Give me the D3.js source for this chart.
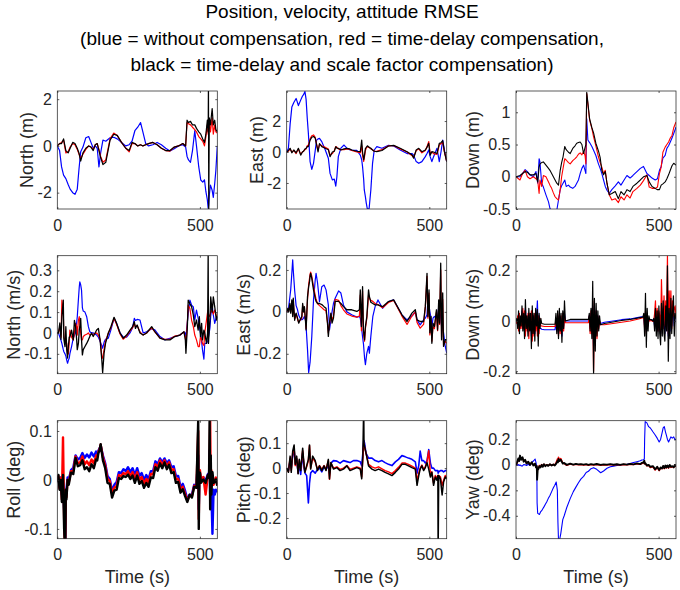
<!DOCTYPE html>
<html>
<head>
<meta charset="utf-8">
<script src="https://cdn.jsdelivr.net/npm/d3@7"></script>
<style>
  body { margin: 0; background: #fff; }
  text { font-family: "Liberation Sans", Arial, sans-serif; }
</style>
</head>
<body>
<svg width="680" height="590"></svg>
<script>
// ---- data (time in s) ----
const titleLines = [
  "Position, velocity, attitude RMSE",
  "(blue = without compensation, red = time-delay compensation,",
  "black = time-delay and scale factor compensation)"
];
const xTicks = [0, 500];
const tMax = 561;

// North position (m)
const tNorthPos = [0,8,15,22,30,38,45,54,62,70,76,82,90,100,110,118,126,133,140,146,152,160,170,185,198,210,225,240,252,262,272,282,292,300,310,320,335,350,365,380,395,410,425,440,450,455,460,467,474,482,488,496,503,510,516,521,526,529,530,531,533,537,543,547,552,556,561];
const northPosBlue = [0,-0.2,-0.9,-1.25,-1.4,-1.65,-1.85,-2.0,-2.07,-1.85,-1.0,-0.25,-0.05,0.35,0.4,0.15,-0.1,0.0,-0.1,-0.9,-0.3,0.25,0.2,0.35,0.37,0.3,0.15,0.0,0.05,0.2,0.65,0.8,1.0,0.6,0.1,0.0,0.05,0.15,0.05,-0.1,-0.22,-0.12,0.0,0.05,-0.05,-0.45,-0.6,-0.7,-0.2,0.65,0.0,-0.9,-1.46,-1.55,-1.45,-1.96,-2.3,-2.66,-2.6,-2.5,-2.1,-1.68,-1.9,-2.2,-1.6,-1.04,0.0];
const northPosRed = [0,0.1,0.15,0.25,-0.3,-0.25,-0.05,0.1,0.05,-0.15,-0.35,-0.55,-0.35,-0.15,0.0,-0.05,-0.15,0.05,0.1,-0.15,-0.45,-0.7,-0.6,0.3,0.55,0.45,0.15,-0.1,-0.25,0.1,0.1,0.0,0.05,0.0,0.05,0.1,0.15,0.05,-0.1,-0.2,-0.22,-0.05,0.0,0.1,0.0,1.0,0.95,0.9,0.8,0.7,0.6,0.4,0.3,0.2,0.0,0.4,0.9,0.5,0.6,0.7,1.0,0.6,1.2,0.5,0.9,0.6,0.55];
const northPosBlack = [0,0.1,0.1,0.3,-0.2,-0.3,-0.1,0.15,0.1,-0.1,-0.3,-0.65,-0.3,-0.1,0.0,-0.05,-0.2,0.05,0.1,-0.2,-0.5,-0.8,-0.7,0.25,0.5,0.45,0.15,-0.1,-0.2,0.15,0.1,0.0,0.05,0.0,0.05,0.1,0.15,0.05,-0.1,-0.2,-0.2,-0.05,0.0,0.1,0.0,1.1,1.0,1.05,0.9,0.9,0.75,0.6,0.5,0.3,0.15,0.5,1.1,0.6,3,-3,1.2,0.9,1.6,0.9,1.1,0.7,0.6];

// East position (m)
const tEastPos = [0,6,12,18,25,33,41,49,55,59,64,68,72,76,82,88,94,100,105,110,115,123,135,146,152,160,167,172,176,181,190,201,211,220,228,246,258,263,266,270,272,276,279,283,289,295,301,307,316,334,357,375,398,422,440,445,454,463,474,486,492,498,503,509,515,527,535,541,547,553,561];
const eastPosBlue = [0,0.24,1.8,2.9,3.2,3.46,3.0,3.35,3.6,3.7,3.9,3.4,2.2,1.2,-0.62,-1.12,-0.73,0.1,0.77,0.85,0.88,0.67,0.15,-0.4,-1.38,-1.8,-1.75,-2.2,-1.6,-0.3,0.25,0.45,0.25,0.15,0.13,0.1,-0.2,-0.5,-0.95,-1.8,-2.45,-2.9,-3.3,-3.7,-3.65,-2.45,-0.73,0.13,0.35,0.24,0.43,0.39,0.13,-0.1,-0.1,-0.2,-0.62,-0.73,-0.62,-0.3,-0.1,0.13,-0.3,-0.62,-0.3,0.24,-0.62,0.0,0.77,0.13,-0.62];
const eastPosRed = [0,0.05,0.2,0.0,0.1,-0.1,0.2,-0.15,0.0,0.05,0.15,0.2,0.4,0.45,0.85,1.05,1.1,0.95,0.5,0.1,0.5,0.4,0.3,0.2,-0.2,-0.1,0.1,0.35,0.3,0.2,0.15,0.15,0.2,0.18,0.1,0.0,-0.05,0.4,-0.2,-0.6,-0.4,0.1,0.25,0.35,0.3,0.2,0.15,0.05,0.05,0.15,0.4,0.42,0.2,0.0,-0.25,-0.35,0.1,0.2,-0.05,0.1,0.35,0.67,-0.1,0.0,-0.1,-0.15,0.45,0.55,0.6,0.0,-0.6];
const eastPosBlack = [0,0.1,0.24,-0.05,0.13,-0.05,0.24,-0.2,0.0,0.05,0.2,0.24,0.35,0.35,0.77,0.95,1.0,0.9,0.45,0.0,0.55,0.35,0.24,0.15,-0.3,0.0,0.05,0.34,0.25,0.24,0.13,0.2,0.24,0.2,0.13,0.05,0.02,0.77,0.0,-0.5,-0.3,0.24,0.3,0.4,0.3,0.24,0.13,0.05,0.02,0.1,0.39,0.43,0.24,0.02,-0.2,-0.4,0.13,0.24,0.02,0.13,0.3,0.56,-0.2,0.02,0.0,-0.1,0.56,0.6,0.73,0.02,-0.62];

// Down position (m)
const tDownPos = [0,14,23,32,40,49,61,70,76,81,84,90,96,105,114,119,125,131,137,143,149,155,160,165,171,176,184,190,199,207,213,219,225,231,237,242,245,248,252,258,266,272,280,289,295,301,307,313,319,327,336,348,359,368,379,389,400,410,424,436,447,459,467,477,488,496,503,509,515,523,529,535,541,547,553,561];
const downPosBlue = [0,0,0.05,0.11,0.08,0.03,0.0,0.08,-0.1,0.28,0.23,-0.1,-0.16,-0.28,-0.39,-0.49,-0.53,-0.55,-0.55,-0.52,-0.36,-0.2,-0.14,-0.1,-0.05,-0.15,-0.13,-0.16,-0.18,-0.15,-0.1,-0.05,0.05,0.13,0.18,0.1,0.05,0.9,0.57,0.53,0.47,0.41,0.33,0.2,0.13,0.05,-0.05,-0.15,-0.21,-0.26,-0.2,-0.14,-0.08,-0.13,-0.05,0.02,-0.02,0.02,0.08,0.13,0.16,0.05,0.02,-0.02,-0.05,-0.03,0.1,0.16,0.29,0.33,0.44,0.48,0.54,0.6,0.67,0.77];
const downPosRed = [0,-0.05,0.05,0.1,0.0,-0.03,0.0,-0.03,-0.05,-0.26,-0.05,-0.15,0.02,0.0,-0.08,-0.13,-0.18,-0.25,-0.31,-0.34,-0.36,-0.2,0.0,0.13,0.28,0.26,0.22,0.2,0.25,0.28,0.31,0.35,0.37,0.34,0.39,0.33,0.2,1.29,1.13,0.88,0.75,0.62,0.48,0.31,0.22,0.15,0.05,0.1,-0.1,-0.28,-0.36,-0.34,-0.4,-0.31,-0.36,-0.28,-0.33,-0.23,-0.18,-0.13,-0.06,0.03,-0.16,-0.18,-0.18,-0.16,0.05,0.15,0.38,0.46,0.5,0.54,0.6,0.64,0.76,0.85];
const downPosBlack = [0,0.02,0.05,0.08,0.07,0.03,0.03,0.05,-0.08,0.15,0.2,0.22,0.23,0.18,0.13,0.1,0.05,0.0,-0.05,-0.1,-0.13,0.1,0.22,0.31,0.47,0.42,0.38,0.36,0.44,0.48,0.52,0.53,0.54,0.5,0.36,0.45,0.5,1.31,1.15,0.9,0.76,0.68,0.52,0.4,0.3,0.1,0.03,0.08,-0.1,-0.28,-0.26,-0.23,-0.34,-0.23,-0.28,-0.2,-0.23,-0.15,-0.1,-0.05,0.0,0.02,-0.08,-0.15,-0.18,-0.2,-0.2,-0.13,-0.11,-0.08,-0.03,0.03,0.1,0.17,0.21,0.18];

// North velocity (m/s)
const tNorthVel = [0,4,9,13,16,21,23,27,30,33,36,39,42,44,50,56,60,64,68,70,74,77,79,82,85,88,91,97,103,109,114,120,126,138,144,150,153,156,159,164,169,179,188,199,208,220,231,243,255,264,270,274,280,290,301,313,331,342,360,377,395,412,430,444,449,451,456,459,465,471,477,482,488,494,498,502,506,509,514,517,523,527,529,530,535,538,543,547,552,558,561];
const northVelBlue = [0,0,-0.02,-0.035,-0.05,-0.08,-0.09,-0.1,-0.11,-0.13,-0.145,-0.13,-0.12,-0.1,-0.065,-0.025,-0.01,0.0,0.05,0.078,0.16,0.22,0.245,0.23,0.205,0.12,0.105,0.1,0.078,0.03,0.006,0.0,0.0,-0.01,-0.02,-0.04,-0.05,-0.06,-0.073,-0.045,-0.03,-0.025,0.015,0.07,0.046,0.0,-0.02,-0.02,0.0,0.025,0.07,0.06,0.065,0.062,0.0,0.006,0.02,0.015,-0.017,-0.033,-0.025,-0.017,-0.01,0.004,0.0,-0.02,0.05,0.094,0.157,0.133,0.125,0.062,0.11,0.07,0.03,0.0,-0.04,-0.08,-0.125,-0.05,-0.05,-0.04,-0.033,-0.02,0.022,0.08,0.133,0.086,0.046,0.078,0.07];
const northVelRed = [0,0.0,0.03,-0.02,0.157,0.1,-0.02,-0.033,-0.05,-0.048,-0.1,-0.1,-0.04,0.014,-0.02,-0.033,0.0,0.046,0.03,-0.01,0.06,0.078,0.05,0.0,-0.033,-0.033,-0.017,-0.01,-0.006,0.0,-0.01,-0.006,-0.006,0.0,-0.01,-0.03,-0.06,-0.12,-0.12,-0.08,-0.04,0.0,0.025,0.07,0.04,-0.005,-0.03,-0.015,0.01,0.025,0.045,0.03,0.035,0.005,-0.01,0.0,0.025,0.005,-0.025,-0.03,-0.03,-0.015,-0.01,0.005,-0.02,-0.06,0.05,0.133,0.117,0.06,0.03,-0.01,-0.033,-0.065,-0.065,-0.017,-0.033,-0.05,-0.06,0.0,0.06,0.1,0.11,0.09,0.078,0.1,0.11,0.09,0.11,0.08,0.07];
const northVelBlack = [0,0.0,0.048,-0.03,0.078,0.157,-0.03,-0.065,0.03,-0.08,-0.12,-0.06,-0.02,-0.02,0.014,-0.033,0.06,0.03,-0.033,-0.08,-0.05,0.014,0.03,0.07,-0.033,-0.105,-0.08,-0.065,-0.05,-0.033,-0.017,0.0,-0.017,0.014,0.022,-0.033,-0.08,-0.128,-0.19,-0.097,-0.05,0.0,0.03,0.075,0.046,0.0,-0.025,-0.01,0.014,0.03,0.054,0.022,0.038,0.0,-0.01,0.0,0.03,0.006,-0.025,-0.033,-0.033,-0.017,-0.01,0.006,-0.033,-0.097,0.03,0.157,0.14,0.125,0.085,0.03,0.062,0.014,0.078,-0.017,0.046,-0.033,0.014,0.0,-0.05,0.0,0.4,-0.05,0.062,0.173,0.1,0.173,0.125,0.062,0.08];

// East velocity (m/s)
const tEastVel = [0,4,7,11,14,18,21,23,26,28,30,33,38,42,47,53,56,59,62,66,68,73,77,80,82,84,88,94,100,103,108,115,123,131,138,143,146,150,155,159,164,170,182,190,199,211,228,246,255,258,262,266,269,273,276,281,287,290,295,302,310,320,336,357,375,404,422,439,451,457,468,480,486,492,495,499,502,506,509,513,518,525,529,533,536,540,543,547,550,556,561];
const eastVelBlue = [0,0.01,0.025,0.07,0.105,0.184,0.248,0.2,0.14,0.1,0.073,0.03,0.01,-0.015,-0.03,-0.038,-0.035,-0.03,-0.022,-0.04,-0.07,-0.18,-0.29,-0.26,-0.24,-0.2,-0.117,0.057,0.152,0.184,0.14,0.049,0.12,0.128,0.105,0.06,0.033,-0.086,-0.04,0.0,0.04,0.065,0.1,0.09,0.033,0.0,-0.014,-0.025,-0.022,-0.03,-0.07,-0.12,-0.15,-0.22,-0.252,-0.197,-0.165,-0.197,-0.117,-0.022,0.025,0.057,0.017,0.049,0.057,-0.014,-0.038,-0.02,0.0,-0.038,-0.062,-0.038,-0.03,-0.014,0.057,0.03,0.0,-0.03,-0.07,-0.03,-0.022,-0.03,-0.03,0.025,0.0,-0.022,-0.07,-0.07,-0.1,-0.165,-0.197];
const eastVelRed = [0,0.01,0.005,0.03,0.0,0.05,-0.01,0.05,-0.01,-0.03,-0.03,-0.01,-0.035,-0.05,-0.04,-0.03,0.03,0.0,0.02,-0.04,-0.08,0.06,0.13,0.16,0.18,0.19,0.17,0.12,0.08,0.06,0.04,0.03,0.02,0.01,0.005,-0.05,-0.1,-0.06,-0.01,-0.04,-0.02,0.06,0.055,0.03,0.01,-0.01,-0.02,-0.025,-0.02,0.08,-0.09,0.1,-0.1,-0.14,-0.08,-0.03,0.08,0.065,0.055,0.05,0.04,0.035,0.02,0.045,0.055,-0.02,-0.06,-0.02,0.0,-0.05,-0.078,-0.06,0.02,0.17,-0.03,0.09,-0.11,-0.04,-0.14,-0.07,-0.08,0.0,-0.09,0.03,-0.06,0.2,-0.12,0.06,-0.16,-0.14,-0.15];
const eastVelBlack = [0,0.016,0.0,0.04,-0.006,0.057,-0.022,0.065,0.0,-0.04,-0.02,-0.006,-0.03,-0.054,-0.038,-0.022,0.04,0.0,0.025,-0.046,-0.086,0.073,0.12,0.144,0.17,0.184,0.16,0.105,0.065,0.05,0.04,0.04,0.035,0.025,0.017,-0.054,-0.117,-0.054,-0.006,-0.054,-0.03,0.05,0.05,0.04,0.025,0.01,0.01,0.002,0.01,0.105,-0.07,0.12,-0.086,-0.133,-0.07,-0.022,0.105,0.073,0.046,0.04,0.033,0.033,0.025,0.049,0.057,-0.014,-0.046,-0.006,0.01,-0.038,-0.046,-0.046,0.025,0.184,-0.022,0.105,-0.1,-0.022,-0.15,-0.054,-0.07,0.01,-0.086,0.057,-0.054,0.232,-0.133,0.09,-0.165,-0.133,-0.133];

// Down velocity (m/s)
const tDownVel = [0,3,6,9,12,15,18,21,24,27,30,33,36,39,42,45,48,51,54,57,60,63,66,69,72,75,78,81,84,87,90,
  100,115,130,
  137,140,143,146,149,152,155,158,161,164,167,170,173,
  190,210,230,245,
  254,257,260,263,266,269,272,275,278,281,284,287,290,293,296,
  310,340,370,400,430,445,
  448,451,454,457,460,463,466,469,
  475,480,
  483,486,489,492,495,498,501,504,507,510,513,516,519,522,525,528,531,534,537,540,543,546,549,552,555,558,561];
const downVelBlue = [0,0.005,-0.02,0.03,-0.03,0.01,-0.015,0.04,-0.03,0.02,-0.04,0.05,-0.02,0.01,-0.04,0.03,-0.03,0.02,-0.06,0.04,-0.03,0.02,-0.05,0.03,0.01,0.08,-0.05,0.02,-0.03,-0.03,-0.033,
  -0.035,-0.035,-0.035,
  -0.035,0.0,-0.04,0.02,-0.05,0.02,-0.03,0.01,-0.06,0.02,-0.02,0.03,0.0,
  0.0,0.0,0.0,0.0,
  0.0,0.02,-0.03,0.03,-0.04,0.06,-0.1,0.05,-0.07,0.04,-0.04,0.02,-0.02,0.0,-0.01,
  -0.005,0.0,0.005,0.008,0.014,0.017,
  0.02,-0.02,0.03,-0.04,0.02,-0.015,0.01,0.005,
  0.005,0.003,
  0.005,-0.02,0.03,-0.03,0.02,-0.04,0.03,-0.02,-0.05,0.04,-0.03,0.05,-0.02,-0.05,0.04,-0.02,0.06,-0.06,0.03,-0.04,0.05,-0.02,0.03,0.04,-0.02,0.02,0.01];
const downVelRed = [0,-0.01,0.02,-0.04,0.03,-0.03,0.01,-0.03,0.05,-0.02,0.04,-0.06,0.02,-0.04,0.03,-0.07,0.03,-0.02,0.04,-0.08,0.02,-0.06,0.03,-0.04,0.02,-0.06,0.02,-0.05,0.01,-0.02,-0.02,
  -0.022,-0.022,-0.022,
  -0.022,0.01,-0.03,0.02,-0.06,0.03,-0.05,0.02,-0.04,0.03,-0.04,0.02,-0.007,
  -0.007,-0.007,-0.007,-0.007,
  -0.007,0.02,-0.05,0.04,-0.05,0.08,-0.2,0.05,-0.09,0.04,-0.07,0.02,-0.03,0.0,-0.015,
  -0.015,-0.01,-0.005,0.0,0.008,0.013,
  0.02,-0.03,0.04,-0.05,0.03,-0.02,0.01,0.0,
  0.002,-0.002,
  0.0,0.03,0.08,-0.02,0.05,-0.04,0.04,0.02,-0.05,0.165,0.03,-0.03,0.1,-0.02,0.08,0.0,0.26,-0.05,0.12,0.02,0.12,-0.03,0.08,0.02,0.05,0.06,0.02];
const downVelBlack = [0,0.01,-0.03,0.04,-0.05,0.02,-0.02,0.06,-0.04,0.03,-0.07,0.085,-0.03,0.02,-0.06,0.05,-0.04,0.03,-0.11,0.06,-0.05,0.03,-0.08,0.05,-0.02,0.045,-0.1,0.03,-0.03,0.01,-0.01,
  -0.013,-0.013,-0.013,
  -0.013,0.03,-0.05,0.04,-0.07,0.05,-0.04,0.03,-0.085,0.04,-0.03,0.08,0.0,
  0.006,0.006,0.006,0.006,
  0.006,0.03,-0.04,0.05,-0.07,0.158,-0.21,0.09,-0.12,0.07,-0.06,0.04,-0.04,0.02,-0.015,
  -0.01,-0.004,0.002,0.006,0.012,0.015,
  0.03,-0.06,0.11,-0.105,0.05,-0.04,0.02,0.005,
  0.005,0.0,
  0.01,-0.04,0.05,-0.06,0.04,-0.07,0.06,-0.05,-0.095,0.07,-0.06,0.08,-0.05,-0.08,0.06,-0.04,0.22,-0.16,0.05,-0.07,0.09,-0.05,0.04,0.1,-0.06,0.03,0.01];

// Roll (deg)
const tRoll = [0,4,8,12,16,20,24,26,28,30,32,36,40,48,56,64,72,80,88,96,104,112,120,128,136,140,144,148,152,160,168,176,184,192,200,208,216,224,232,240,248,256,264,272,280,288,296,304,312,320,328,336,344,352,360,368,376,384,392,400,408,416,424,432,440,448,456,464,472,480,488,494,496,498,500,504,512,520,528,532,534,536,538,540,544,548,552,556,561];
const rollBlue = [0.0,0.005,-0.015,0.005,-0.03,0.0,-0.06,-0.11,-0.12,-0.03,-0.02,0.005,0.0,0.02,0.025,0.05,0.042,0.045,0.055,0.045,0.052,0.046,0.056,0.048,0.058,0.052,0.06,0.064,0.07,0.05,0.034,0.008,0.002,-0.022,-0.01,-0.004,0.016,0.014,0.022,0.018,0.026,0.016,0.024,0.01,0.024,0.008,0.014,0.0,0.01,0.002,0.018,0.018,0.038,0.032,0.044,0.036,0.044,0.034,0.04,0.026,0.028,0.008,0.008,-0.014,-0.008,-0.022,-0.04,-0.03,-0.03,-0.01,-0.012,0.05,-0.06,0.01,0.015,0.0,0.005,-0.002,0.012,0.008,0.06,-0.03,0.02,-0.02,-0.11,-0.02,-0.03,-0.02,-0.025];
const rollRed = [-0.002,0.008,-0.018,0.004,-0.04,0.087,-0.08,-0.13,-0.125,-0.03,-0.035,0.0,-0.005,0.018,0.018,0.048,0.034,0.036,0.048,0.032,0.038,0.03,0.042,0.034,0.05,0.046,0.058,0.062,0.072,0.046,0.03,0.002,-0.002,-0.028,-0.016,-0.012,0.01,0.008,0.014,0.012,0.018,0.008,0.016,0.002,0.016,0.0,0.006,-0.008,0.002,-0.006,0.012,0.012,0.032,0.026,0.04,0.03,0.04,0.028,0.036,0.02,0.022,0.002,0.002,-0.02,-0.014,-0.028,-0.042,-0.032,-0.034,-0.012,-0.014,0.1,-0.08,0.01,0.02,0.0,0.006,-0.03,0.01,0.008,0.04,0.12,-0.02,0.02,0.0,-0.01,0.0,0.005,-0.01];
const rollBlack = [-0.005,0.01,-0.02,0.0,-0.045,0.01,-0.1,-0.125,-0.13,-0.02,-0.04,0.0,-0.01,0.015,0.012,0.045,0.028,0.03,0.04,0.022,0.026,0.018,0.032,0.024,0.042,0.04,0.055,0.06,0.073,0.04,0.024,-0.006,-0.008,-0.036,-0.022,-0.02,0.004,0.002,0.008,0.006,0.011,0.002,0.009,-0.006,0.009,-0.008,-0.002,-0.016,-0.006,-0.014,0.005,0.004,0.026,0.019,0.034,0.024,0.036,0.022,0.031,0.014,0.016,-0.006,-0.004,-0.026,-0.019,-0.033,-0.045,-0.03,-0.036,-0.014,-0.016,0.12,-0.1,0.005,0.015,-0.006,0.001,-0.006,0.01,0.004,0.12,-0.06,0.05,-0.03,0.016,-0.006,-0.004,0.001,-0.012];

// Pitch (deg)
const tPitch = [0,6,12,16,21,26,30,35,40,44,49,56,61,64,70,76,80,84,91,100,108,115,123,131,138,146,150,155,164,176,187,199,211,222,234,246,258,263,267,270,271,273,278,287,299,310,322,334,345,357,369,381,392,404,416,427,439,451,457,463,468,474,480,486,492,498,504,509,515,521,527,530,531,533,539,545,550,556,561];
const pitchBlue = [0,-0.01,0.03,0.0,0.05,0.07,0.02,0.035,-0.02,0.02,-0.025,0.06,0.0,-0.02,-0.03,-0.14,-0.06,-0.02,-0.01,-0.02,-0.005,0.0,-0.015,0.005,-0.005,0.01,-0.02,0.02,0.03,0.028,0.02,0.03,0.026,0.022,0.03,0.03,0.025,0.01,0.06,0.11,0.11,0.1,0.06,0.04,0.04,0.03,0.025,0.03,0.022,0.015,0.01,0.025,0.035,0.05,0.045,0.04,0.035,0.025,-0.02,0.01,0.068,0.03,0.03,0.02,0.03,0.074,0.02,0.0,0.0,-0.01,-0.01,-0.01,-0.02,-0.015,-0.01,-0.01,-0.015,-0.01,-0.01];
const pitchRed = [0,-0.015,0.04,-0.01,0.06,0.08,0.01,0.04,-0.02,0.03,-0.005,0.07,0.005,-0.015,0.005,0.03,0.09,0.0,0.04,0.025,-0.005,0.01,-0.005,0.01,-0.005,0.03,-0.045,0.02,0.0,0.005,-0.005,0.0,0.01,-0.005,0.0,0.005,0.0,-0.035,0.04,0.1,0.1,0.085,0.06,0.015,0.005,0.0,0.005,-0.003,-0.01,-0.015,-0.022,-0.01,0.003,0.02,0.02,0.015,0.008,0.0,-0.05,-0.02,0.0,0.012,-0.005,0.005,0.025,0.07,-0.03,-0.015,-0.06,-0.03,-0.04,-0.03,-0.03,-0.03,-0.035,-0.07,-0.05,-0.03,-0.04];
const pitchBlack = [0,-0.017,0.048,-0.017,0.068,0.093,0.015,0.048,-0.023,0.035,-0.01,0.08,0.01,-0.017,0.01,0.035,0.093,-0.004,0.048,0.03,-0.01,0.009,-0.01,0.009,-0.01,0.035,-0.043,0.022,-0.004,0.002,-0.01,-0.004,0.009,-0.01,-0.004,0.002,-0.004,-0.043,0.048,0.25,0.1,0.087,0.061,0.009,-0.004,-0.01,-0.004,-0.01,-0.017,-0.023,-0.03,-0.017,-0.004,0.015,0.015,0.009,0.002,-0.004,-0.069,-0.03,-0.004,0.009,-0.01,0.002,0.022,-0.004,-0.036,-0.017,-0.069,-0.036,-0.049,-0.03,-0.35,-0.03,-0.043,-0.108,-0.056,-0.036,-0.043];

// Yaw (deg)
const tYaw = [0,4,8,11,14,18,23,27,32,37,43,49,55,61,67,70,73,74,76,79,82,86,90,94,98,103,108,113,119,125,131,136,141,145,147,149,152,157,164,169,178,190,201,210,219,228,237,246,254,263,272,283,297,307,319,331,342,354,365,377,389,400,412,424,436,441,447,450,451,453,459,465,471,480,488,495,502,507,512,516,520,524,527,531,535,539,543,548,553,557,561];
const yawBlue = [0,0.0,0.002,-0.005,0.0,-0.008,-0.008,0.003,0.0,-0.005,0.005,-0.005,0.02,0.03,0.046,0.02,-0.02,-0.3,-0.38,-0.385,-0.39,-0.37,-0.36,-0.345,-0.33,-0.31,-0.29,-0.265,-0.24,-0.21,-0.18,-0.16,-0.135,-0.2,-0.45,-0.59,-0.6,-0.54,-0.43,-0.4,-0.335,-0.265,-0.21,-0.175,-0.14,-0.11,-0.09,-0.06,-0.05,-0.03,-0.022,-0.035,-0.062,-0.048,-0.027,-0.015,-0.01,-0.005,0.0,0.003,0.005,0.01,0.018,0.025,0.032,0.038,0.04,0.046,0.2,0.34,0.33,0.3,0.29,0.26,0.235,0.21,0.18,0.2,0.25,0.29,0.3,0.26,0.235,0.2,0.18,0.2,0.22,0.21,0.22,0.2,0.2];
const yawRed = [0,0.015,0.04,0.035,0.06,0.045,0.05,0.03,0.035,0.015,0.02,0.005,0.015,0.0,0.005,-0.015,-0.02,-0.06,-0.03,-0.025,-0.005,-0.015,0.002,-0.01,0.004,-0.006,0.0,-0.005,0.004,-0.003,0.003,0.0,0.02,0.045,0.03,0.06,0.04,0.05,0.015,0.01,-0.003,0.006,0.0,0.004,0.0,0.002,-0.002,0.002,-0.003,0.002,-0.002,0.003,-0.003,0.0,-0.002,0.002,-0.002,0.002,-0.002,0.003,0.0,0.005,0.002,0.008,0.004,0.01,0.015,0.025,0.008,0.01,-0.008,-0.003,-0.02,-0.015,-0.04,-0.02,-0.045,-0.025,-0.03,-0.012,-0.03,-0.01,-0.025,-0.01,-0.025,-0.005,-0.02,-0.015,-0.02,-0.005,-0.015];
const yawBlack = [0,0.02,0.05,0.03,0.073,0.04,0.06,0.025,0.04,0.01,0.025,0.0,0.02,-0.005,0.01,-0.02,-0.01,-0.116,-0.04,-0.03,-0.01,-0.02,0.0,-0.015,0.005,-0.01,0.0,-0.008,0.005,-0.005,0.003,-0.005,0.01,0.03,0.02,0.046,0.03,0.04,0.01,0.015,0.0,0.01,0.002,0.008,0.004,0.006,0.002,0.006,0.0,0.006,0.002,0.007,0.0,0.004,0.002,0.006,0.001,0.005,0.0,0.006,0.002,0.008,0.004,0.012,0.006,0.015,0.02,0.032,0.01,0.015,-0.005,0.0,-0.015,-0.01,-0.035,-0.015,-0.04,-0.02,-0.028,-0.008,-0.025,-0.005,-0.02,-0.005,-0.02,0.0,-0.015,-0.01,-0.02,0.0,-0.012];

// y-axis limits and ticks per panel
const yLimits = [[-2.7,2.35],[-3.68,3.94],[-0.5,1.33],[-0.195,0.37],[-0.295,0.268],[-0.21,0.26],[-0.12,0.121],[-0.283,0.19],[-0.58,0.347]];
const yTickSets = [[-2,0,2],[-2,0,2],[-0.5,0,0.5,1],[-0.1,0,0.1,0.2,0.3],[-0.2,0,0.2],[-0.2,0,0.2],[-0.1,0,0.1],[-0.2,-0.1,0,0.1],[-0.4,-0.2,0,0.2]];
const yLabels = ["North (m)","East (m)","Down (m)","North (m/s)","East (m/s)","Down (m/s)","Roll (deg)","Pitch (deg)","Yaw (deg)"];

const panels = [
  {t:tNorthPos, blue:northPosBlue, red:northPosRed, black:northPosBlack},
  {t:tEastPos,  blue:eastPosBlue,  red:eastPosRed,  black:eastPosBlack},
  {t:tDownPos,  blue:downPosBlue,  red:downPosRed,  black:downPosBlack},
  {t:tNorthVel, blue:northVelBlue, red:northVelRed, black:northVelBlack},
  {t:tEastVel,  blue:eastVelBlue,  red:eastVelRed,  black:eastVelBlack},
  {t:tDownVel,  blue:downVelBlue,  red:downVelRed,  black:downVelBlack},
  {t:tRoll,     blue:rollBlue,     red:rollRed,     black:rollBlack},
  {t:tPitch,    blue:pitchBlue,    red:pitchRed,    black:pitchBlack},
  {t:tYaw,      blue:yawBlue,      red:yawRed,      black:yawBlack}
];

// ---- layout / style ----
const colX = [57.3, 286.7, 516];
const rowY = [91, 255.7, 420.7];
const pw = 160, ph = 118;
const labelGap = [24, 24, 37, 37, 37, 37, 37, 37, 37];
const seriesColors = [["blue","#0000ff"],["red","#ff0000"],["black","#000000"]];
// stroke widths [blue, red, black]; the attitude traces are noisy bands in the original
const strokeW = [[1.2,1.2,1.2],[1.2,1.2,1.2],[1.1,1.1,1.1],[1.2,1.2,1.3],[1.2,1.2,1.3],[1.2,1.2,1.2],[2.4,2.4,2.4],[1.6,1.5,1.5],[1.1,1.5,1.9]];
const axisColor = "#262626";

var svg = d3.select("svg");

// title
svg.append("g")
  .selectAll("text")
  .data(titleLines)
  .enter()
  .append("text")
  .attr("x", 342)
  .attr("y", (d, i) => [18, 45, 71][i])
  .attr("text-anchor", "middle")
  .attr("font-size", 19)
  .attr("fill", "#000")
  .text(d => d);

panels.forEach(function(p, i) {
  var row = Math.floor(i / 3), col = i % 3;
  var g = svg.append("g")
    .attr("transform", "translate(" + colX[col] + "," + rowY[row] + ")");

  var x = d3.scaleLinear().domain([0, tMax]).range([0, pw]);
  var y = d3.scaleLinear().domain(yLimits[i]).range([ph, 0]);

  g.append("clipPath").attr("id", "clip" + i)
    .append("rect").attr("width", pw).attr("height", ph);

  var line = d3.line()
    .x(d => x(d[0]))
    .y(d => y(d[1]));

  // series: blue first, black on top
  seriesColors.forEach(function(s, k) {
    g.append("path")
      .datum(d3.zip(p.t, p[s[0]]))
      .attr("clip-path", "url(#clip" + i + ")")
      .attr("fill", "none")
      .attr("stroke", s[1])
      .attr("stroke-width", strokeW[i][k])
      .attr("stroke-linejoin", "round")
      .attr("d", line);
  });

  // axes with inward ticks
  var bottom = g.append("g").attr("transform", "translate(0," + ph + ")")
    .call(d3.axisBottom(x).tickValues(xTicks).tickSize(-2).tickPadding(10.3));
  var top = g.append("g")
    .call(d3.axisTop(x).tickValues(xTicks).tickSize(-2).tickFormat(""));
  var left = g.append("g")
    .call(d3.axisLeft(y).tickValues(yTickSets[i]).tickSize(-2).tickPadding(5.5).tickFormat(d => String(d)));
  var right = g.append("g").attr("transform", "translate(" + pw + ",0)")
    .call(d3.axisRight(y).tickValues(yTickSets[i]).tickSize(-2).tickFormat(""));

  [bottom, top, left, right].forEach(function(a) {
    a.select(".domain").remove();
    a.selectAll("line").attr("stroke", axisColor).attr("stroke-width", 0.75);
    a.selectAll("text")
      .attr("fill", axisColor)
      .attr("font-size", 16)
      .attr("font-family", "'Liberation Sans', Arial, sans-serif");
  });

  g.append("rect")
    .attr("width", pw).attr("height", ph)
    .attr("fill", "none")
    .attr("stroke", axisColor)
    .attr("stroke-width", 0.75);

  // y label
  g.append("text")
    .attr("transform", "translate(" + (-labelGap[i]) + "," + (ph / 2) + ") rotate(-90)")
    .attr("text-anchor", "middle")
    .attr("font-size", 18)
    .attr("fill", axisColor)
    .text(yLabels[i]);

  // x label on bottom row
  if (row === 2) {
    g.append("text")
      .attr("x", pw / 2)
      .attr("y", ph + 44.4)
      .attr("text-anchor", "middle")
      .attr("font-size", 18)
      .attr("fill", axisColor)
      .text("Time (s)");
  }
});
</script>
</body>
</html>
